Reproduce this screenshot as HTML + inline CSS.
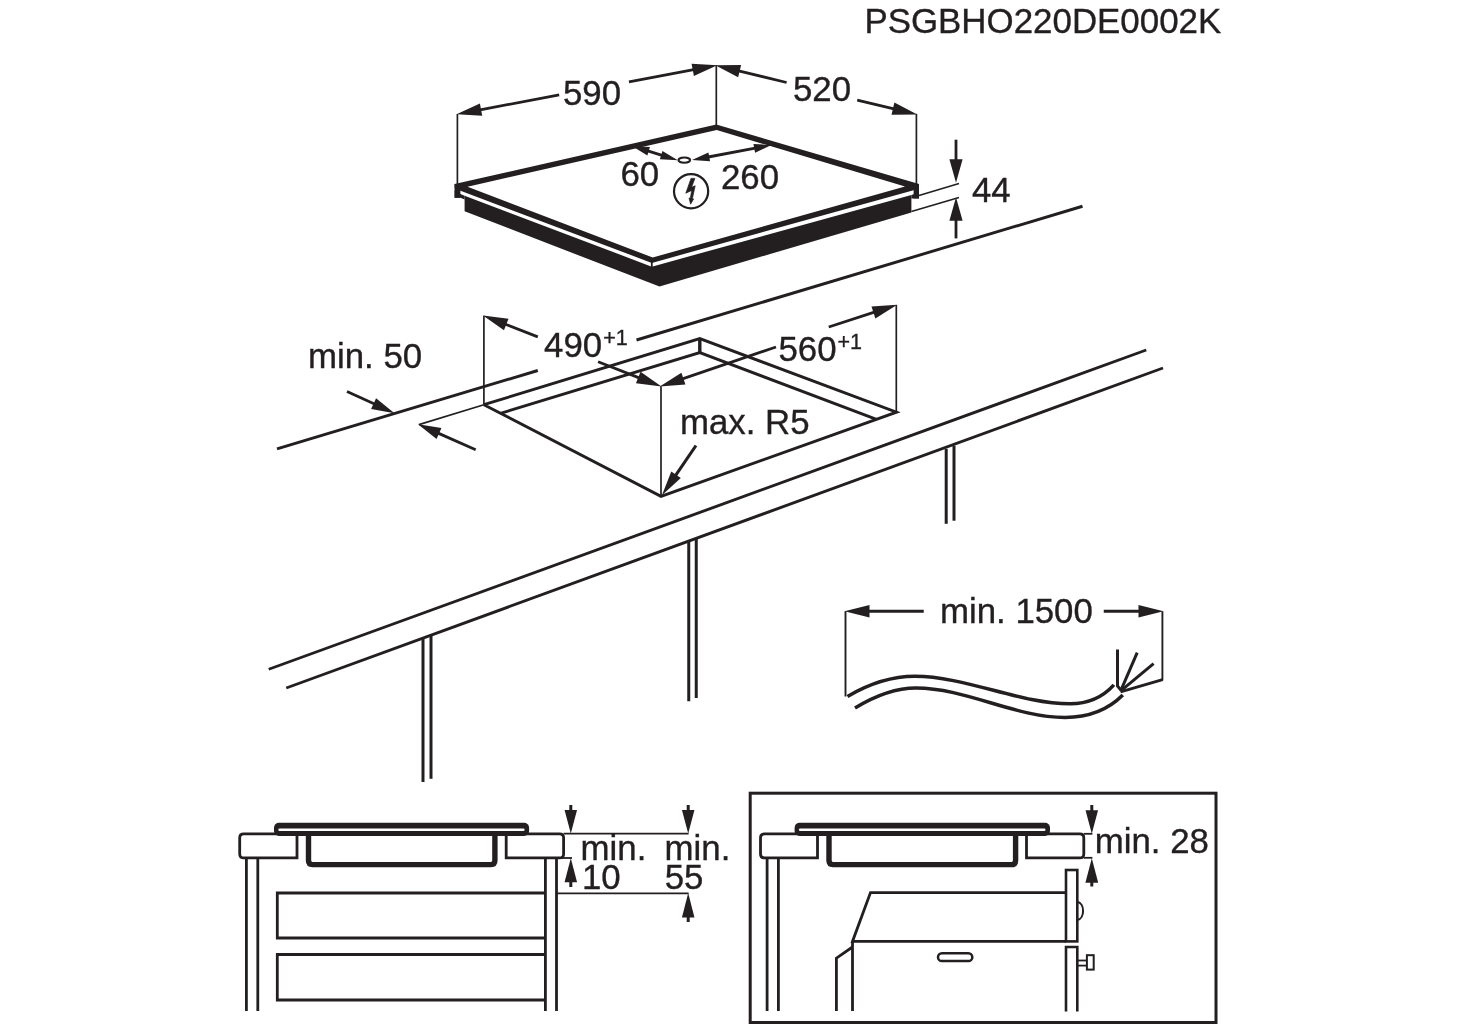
<!DOCTYPE html>
<html><head><meta charset="utf-8"><title>PSGBHO220DE0002K</title>
<style>
html,body{margin:0;padding:0;background:#fff;}
svg{display:block;will-change:transform;}
svg text{font-family:"Liberation Sans",Arial,Helvetica,sans-serif;fill:#231f20;stroke:#231f20;stroke-width:0.35px;}
</style></head><body>
<svg width="1460" height="1024" viewBox="0 0 1460 1024" stroke="#231f20" fill="none">
<rect x="0" y="0" width="1460" height="1024" fill="#fff" stroke="none"/>
<text x="864.4" y="32.9" font-size="34.9" text-anchor="start">PSGBHO220DE0002K</text>
<path fill-rule="evenodd" fill="#231f20" stroke="none" d="M454.6,184 L716.3,124.6 L919,184 L919,188.75 L651.8,262.91 L454.6,188.52 Z M467.5,186.7 L716.7,130 L905,186.6 L652.7,257.5 Z"/>
<rect x="454.6" y="184" width="5.8" height="13.8" fill="#231f20" stroke="none"/>
<rect x="913.6" y="184" width="5.4" height="14.4" fill="#231f20" stroke="none"/>
<polygon points="464.6,195.70 651.8,266.66 911.4,194.95 911.4,212.4 659.5,286.6 464.6,211.30" fill="#231f20" stroke="none"/>
<polygon points="454.6,190 460.4,194.11 464.6,195.70 464.6,199.5 460.4,197.8 454.6,197.8" fill="#231f20" stroke="none"/>
<polygon points="919,190 919,198.4 911.4,198.4 911.4,194.95 913.6,194.34" fill="#231f20" stroke="none"/>
<line x1="651.80" y1="261.91" x2="651.80" y2="267.66" stroke-width="1.8" stroke-linecap="butt"/>
<line x1="457.40" y1="114.00" x2="457.40" y2="184.50" stroke-width="1.7" stroke-linecap="butt"/>
<line x1="716.30" y1="65.40" x2="716.30" y2="125.50" stroke-width="1.7" stroke-linecap="butt"/>
<line x1="916.40" y1="113.80" x2="916.40" y2="184.50" stroke-width="1.7" stroke-linecap="butt"/>
<polygon points="456.52,114.29 479.92,103.51 482.24,115.79" fill="#231f20" stroke="none"/>
<line x1="559.20" y1="94.90" x2="480.10" y2="109.83" stroke-width="2.8" stroke-linecap="butt"/>
<polygon points="717.28,65.22 693.87,75.97 691.56,63.69" fill="#231f20" stroke="none"/>
<line x1="629.00" y1="81.80" x2="693.70" y2="69.65" stroke-width="2.8" stroke-linecap="butt"/>
<text x="563" y="105" font-size="34.8" text-anchor="start">590</text>
<polygon points="715.33,65.16 741.10,65.00 738.14,77.15" fill="#231f20" stroke="none"/>
<line x1="786.60" y1="82.50" x2="738.65" y2="70.84" stroke-width="2.8" stroke-linecap="butt"/>
<polygon points="917.27,114.43 891.51,114.75 894.39,102.59" fill="#231f20" stroke="none"/>
<line x1="857.20" y1="100.20" x2="893.92" y2="108.90" stroke-width="2.8" stroke-linecap="butt"/>
<text x="793" y="101.4" font-size="34.8" text-anchor="start">520</text>
<line x1="919.00" y1="195.60" x2="959.00" y2="183.60" stroke-width="1.6" stroke-linecap="butt"/>
<line x1="911.40" y1="211.40" x2="959.00" y2="197.50" stroke-width="1.6" stroke-linecap="butt"/>
<polygon points="956.00,182.80 949.40,159.20 962.60,159.20" fill="#231f20" stroke="none"/>
<line x1="956.00" y1="139.70" x2="956.00" y2="160.20" stroke-width="2.8" stroke-linecap="butt"/>
<polygon points="956.00,197.20 962.60,220.80 949.40,220.80" fill="#231f20" stroke="none"/>
<line x1="956.00" y1="238.40" x2="956.00" y2="219.80" stroke-width="2.8" stroke-linecap="butt"/>
<text x="972" y="202" font-size="34.8" text-anchor="start">44</text>
<polygon points="677.86,160.30 659.84,159.33 662.44,150.92" fill="#231f20" stroke="none"/>
<polygon points="631.94,146.10 649.96,147.07 647.36,155.48" fill="#231f20" stroke="none"/>
<line x1="647.71" y1="150.98" x2="662.09" y2="155.42" stroke-width="2.9" stroke-linecap="butt"/>
<polygon points="771.48,145.11 755.12,152.78 753.45,143.93" fill="#231f20" stroke="none"/>
<polygon points="692.02,160.09 708.38,152.42 710.05,161.27" fill="#231f20" stroke="none"/>
<line x1="708.23" y1="157.03" x2="755.27" y2="148.17" stroke-width="2.9" stroke-linecap="butt"/>
<ellipse cx="684.3" cy="160.1" rx="5.8" ry="2.6" fill="#fff" stroke-width="2.1"/>
<text x="620.5" y="186.2" font-size="34.8" text-anchor="start">60</text>
<text x="721" y="188.9" font-size="34.8" text-anchor="start">260</text>
<circle cx="691.1" cy="191.2" r="17.1" fill="none" stroke-width="2.2"/>
<polygon points="691.0,178.4 694.9,178.4 691.6,187.2 695.2,185.8 692.4,198.6 693.6,198.9 690.6,204.2 689.0,198.0 690.3,198.2 691.7,190.4 685.8,193.2" fill="#231f20" stroke="#231f20" stroke-width="0.7" stroke-linejoin="miter"/>
<line x1="277.00" y1="448.90" x2="537.80" y2="370.50" stroke-width="2.9" stroke-linecap="butt"/>
<line x1="636.50" y1="340.00" x2="1082.50" y2="206.25" stroke-width="2.9" stroke-linecap="butt"/>
<line x1="268.75" y1="669.25" x2="1146.25" y2="350.00" stroke-width="2.9" stroke-linecap="butt"/>
<line x1="286.25" y1="688.00" x2="1163.00" y2="368.00" stroke-width="2.9" stroke-linecap="butt"/>
<line x1="423.00" y1="638.80" x2="423.00" y2="782.00" stroke-width="3" stroke-linecap="butt"/>
<line x1="431.00" y1="635.70" x2="431.00" y2="778.80" stroke-width="3" stroke-linecap="butt"/>
<line x1="688.75" y1="542.00" x2="688.75" y2="701.25" stroke-width="3" stroke-linecap="butt"/>
<line x1="696.25" y1="539.00" x2="696.25" y2="698.00" stroke-width="3" stroke-linecap="butt"/>
<line x1="946.20" y1="448.80" x2="946.20" y2="523.80" stroke-width="3" stroke-linecap="butt"/>
<line x1="954.00" y1="445.60" x2="954.00" y2="520.70" stroke-width="3" stroke-linecap="butt"/>
<polyline points="483.9,404.7 699.8,338.6 896.5,412.2 661,496.3 483.9,404.7" fill="none" stroke-width="2.9" stroke-linejoin="miter"/>
<polyline points="500.5,413.3 699.8,352.6 876.5,419.4" fill="none" stroke-width="2.9"/>
<line x1="699.80" y1="338.60" x2="699.80" y2="352.60" stroke-width="3.4" stroke-linecap="butt"/>
<line x1="483.90" y1="315.80" x2="483.90" y2="404.70" stroke-width="1.7" stroke-linecap="butt"/>
<line x1="661.00" y1="386.30" x2="661.00" y2="496.00" stroke-width="1.7" stroke-linecap="butt"/>
<line x1="896.30" y1="305.00" x2="896.30" y2="412.00" stroke-width="1.7" stroke-linecap="butt"/>
<line x1="483.90" y1="404.70" x2="418.90" y2="424.60" stroke-width="1.7" stroke-linecap="butt"/>
<polygon points="394.51,413.22 371.10,409.11 376.09,398.20" fill="#231f20" stroke="none"/>
<line x1="347.00" y1="391.50" x2="374.50" y2="404.07" stroke-width="2.8" stroke-linecap="butt"/>
<polygon points="417.99,424.19 441.44,428.04 436.58,439.01" fill="#231f20" stroke="none"/>
<line x1="475.70" y1="449.80" x2="438.10" y2="433.12" stroke-width="2.8" stroke-linecap="butt"/>
<text x="308" y="367.5" font-size="34.8" text-anchor="start">min. 50</text>
<polygon points="482.97,315.44 508.53,318.73 503.97,330.37" fill="#231f20" stroke="none"/>
<line x1="537.80" y1="336.90" x2="505.32" y2="324.18" stroke-width="2.8" stroke-linecap="butt"/>
<polygon points="661.53,386.56 635.97,383.29 640.52,371.65" fill="#231f20" stroke="none"/>
<line x1="598.10" y1="361.80" x2="639.17" y2="377.84" stroke-width="2.8" stroke-linecap="butt"/>
<text x="544.1" y="357" font-size="34.8" text-anchor="start">490</text>
<text x="603.2" y="345.2" font-size="21.5" text-anchor="start">+1</text>
<polygon points="659.75,386.62 681.40,372.64 685.43,384.47" fill="#231f20" stroke="none"/>
<line x1="776.00" y1="347.00" x2="682.47" y2="378.88" stroke-width="2.8" stroke-linecap="butt"/>
<polygon points="897.20,304.69 875.37,318.38 871.49,306.49" fill="#231f20" stroke="none"/>
<line x1="828.75" y1="327.00" x2="874.38" y2="312.13" stroke-width="2.8" stroke-linecap="butt"/>
<text x="778.5" y="360.5" font-size="34.8" text-anchor="start">560</text>
<text x="837.5" y="348.75" font-size="21.5" text-anchor="start">+1</text>
<text x="680" y="434.1" font-size="34.8" text-anchor="start">max. R5</text>
<polygon points="661.94,495.33 671.30,471.44 680.79,477.93" fill="#231f20" stroke="none"/>
<line x1="696.00" y1="445.50" x2="675.48" y2="475.51" stroke-width="3.1" stroke-linecap="butt"/>
<line x1="845.50" y1="611.25" x2="845.50" y2="696.50" stroke-width="1.9" stroke-linecap="butt"/>
<line x1="1162.40" y1="611.25" x2="1162.40" y2="680.50" stroke-width="1.9" stroke-linecap="butt"/>
<polygon points="844.50,611.25 869.50,605.00 869.50,617.50" fill="#231f20" stroke="none"/>
<line x1="923.75" y1="611.25" x2="868.50" y2="611.25" stroke-width="2.8" stroke-linecap="butt"/>
<polygon points="1163.50,611.25 1138.50,617.50 1138.50,605.00" fill="#231f20" stroke="none"/>
<line x1="1103.75" y1="611.25" x2="1139.50" y2="611.25" stroke-width="2.8" stroke-linecap="butt"/>
<text x="940" y="622.5" font-size="34.8" text-anchor="start">min. 1500</text>
<path d="M847.5,696.5 C872,682 893,676.3 915,676.3 C965,676.3 1020,703.8 1070,703.8 C1090,703.8 1103,697 1113.9,684.9" fill="none" stroke-width="3.5"/>
<path d="M855,708 C878,694 897,688 916,688 C966,688 1015,717.5 1065,717.5 C1090,717.5 1108,710 1122.8,695.1" fill="none" stroke-width="3.5"/>
<polyline points="1117.5,649.6 1117.5,686 1121.3,690.6" fill="none" stroke-width="3" stroke-linejoin="round"/>
<line x1="1120.80" y1="690.60" x2="1137.20" y2="652.70" stroke-width="3" stroke-linecap="butt"/>
<line x1="1120.80" y1="690.80" x2="1153.60" y2="663.60" stroke-width="3" stroke-linecap="butt"/>
<line x1="1120.50" y1="691.80" x2="1162.60" y2="679.70" stroke-width="2.8" stroke-linecap="butt"/>
<path d="M297,833.8 H243.7 Q239.7,833.8 239.7,837.8 V853.9 Q239.7,857.9 243.7,857.9 H297 Z" fill="#fff" stroke-width="2.8"/>
<path d="M506.2,833.8 H559.6 Q563.6,833.8 563.6,837.8 V853.9 Q563.6,857.9 559.6,857.9 H506.2 Z" fill="#fff" stroke-width="2.8"/>
<path d="M308.5,835 V860.6 Q308.5,864.6 312.5,864.6 H490.9 Q494.9,864.6 494.9,860.6 V835" fill="none" stroke-width="5.4"/>
<rect x="274" y="822.8" width="255.10000000000002" height="13.1" rx="5" fill="#231f20" stroke="none"/>
<rect x="278.3" y="828.4" width="246.3" height="2.6" rx="1.3" fill="#fff" stroke="none"/>
<line x1="246.40" y1="857.90" x2="246.40" y2="1011.00" stroke-width="2.8" stroke-linecap="butt"/>
<line x1="257.80" y1="857.90" x2="257.80" y2="1011.00" stroke-width="2.8" stroke-linecap="butt"/>
<line x1="545.40" y1="857.90" x2="545.40" y2="1011.00" stroke-width="2.8" stroke-linecap="butt"/>
<line x1="556.50" y1="857.90" x2="556.50" y2="1011.00" stroke-width="2.8" stroke-linecap="butt"/>
<path d="M545.4,893 H277.3 V938 H545.4" fill="none" stroke-width="2.8"/>
<path d="M545.4,954.5 H277.3 V1000 H545.4" fill="none" stroke-width="2.8"/>
<line x1="556.50" y1="893.30" x2="688.60" y2="893.30" stroke-width="1.8" stroke-linecap="butt"/>
<line x1="563.60" y1="833.70" x2="688.60" y2="833.70" stroke-width="1.8" stroke-linecap="butt"/>
<line x1="556.50" y1="858.00" x2="572.00" y2="858.00" stroke-width="1.8" stroke-linecap="butt"/>
<polygon points="570.80,833.60 564.55,810.10 577.05,810.10" fill="#231f20" stroke="none"/>
<line x1="570.80" y1="805.00" x2="570.80" y2="811.10" stroke-width="3" stroke-linecap="butt"/>
<polygon points="570.80,858.20 577.05,882.20 564.55,882.20" fill="#231f20" stroke="none"/>
<line x1="570.80" y1="887.00" x2="570.80" y2="881.20" stroke-width="3" stroke-linecap="butt"/>
<polygon points="688.20,833.60 681.95,810.10 694.45,810.10" fill="#231f20" stroke="none"/>
<line x1="688.20" y1="805.00" x2="688.20" y2="811.10" stroke-width="3" stroke-linecap="butt"/>
<polygon points="688.20,893.00 694.45,917.50 681.95,917.50" fill="#231f20" stroke="none"/>
<line x1="688.20" y1="922.00" x2="688.20" y2="916.50" stroke-width="3" stroke-linecap="butt"/>
<text x="580.6" y="860.3" font-size="34.8" text-anchor="start">min.</text>
<text x="664.6" y="860.3" font-size="34.8" text-anchor="start">min.</text>
<text x="582" y="889.4" font-size="34.8" text-anchor="start">10</text>
<text x="664.7" y="889.4" font-size="34.8" text-anchor="start">55</text>
<rect x="750.2" y="793.2" width="465.8" height="229.3" fill="none" stroke-width="3"/>
<path d="M817.5,833.8 H764.5 Q760.5,833.8 760.5,837.8 V853.9 Q760.5,857.9 764.5,857.9 H817.5 Z" fill="#fff" stroke-width="2.8"/>
<path d="M1026.5,833.8 H1079.8 Q1083.8,833.8 1083.8,837.8 V853.9 Q1083.8,857.9 1079.8,857.9 H1026.5 Z" fill="#fff" stroke-width="2.8"/>
<path d="M829,835 V860.6 Q829,864.6 833,864.6 H1011.6 Q1015.6,864.6 1015.6,860.6 V835" fill="none" stroke-width="5.4"/>
<rect x="794.6" y="822.8" width="255.39999999999998" height="13.1" rx="5" fill="#231f20" stroke="none"/>
<rect x="798.9" y="828.4" width="246.59999999999997" height="2.6" rx="1.3" fill="#fff" stroke="none"/>
<line x1="767.10" y1="857.90" x2="767.10" y2="1011.00" stroke-width="2.8" stroke-linecap="butt"/>
<line x1="778.40" y1="857.90" x2="778.40" y2="1011.00" stroke-width="2.8" stroke-linecap="butt"/>
<path d="M1066,892.6 H870.5 L852.5,941.4 H1066 M852.5,941.4 V1011 M852.5,947 L836.4,958.2 V1011" fill="none" stroke-width="2.8" stroke-linejoin="miter"/>
<rect x="1066" y="870" width="11.3" height="71.4" fill="#fff" stroke-width="2.6"/>
<path d="M1066,1011.5 V947 H1077.3 V1011.5" fill="none" stroke-width="2.6"/>
<rect x="938" y="953.3" width="34.3" height="7.8" rx="3.9" fill="none" stroke-width="2.5"/>
<path d="M1077.3,901.8 C1085,903.5 1085,918.3 1077.3,920" fill="none" stroke-width="2"/>
<line x1="1077.30" y1="960.50" x2="1087.00" y2="960.50" stroke-width="1.8" stroke-linecap="butt"/>
<line x1="1077.30" y1="965.60" x2="1087.00" y2="965.60" stroke-width="1.8" stroke-linecap="butt"/>
<rect x="1086.9" y="955.2" width="6.8" height="14.4" fill="none" stroke-width="2"/>
<line x1="1083.80" y1="833.80" x2="1092.40" y2="833.80" stroke-width="1.8" stroke-linecap="butt"/>
<line x1="1083.80" y1="857.80" x2="1092.40" y2="857.80" stroke-width="1.8" stroke-linecap="butt"/>
<polygon points="1091.80,833.80 1085.55,810.30 1098.05,810.30" fill="#231f20" stroke="none"/>
<line x1="1091.80" y1="805.00" x2="1091.80" y2="811.30" stroke-width="3" stroke-linecap="butt"/>
<polygon points="1091.80,858.20 1098.20,882.70 1085.40,882.70" fill="#231f20" stroke="none"/>
<line x1="1091.80" y1="886.50" x2="1091.80" y2="881.70" stroke-width="3" stroke-linecap="butt"/>
<text x="1094.8" y="852.7" font-size="34.8" text-anchor="start">min. 28</text>
</svg>
</body></html>
